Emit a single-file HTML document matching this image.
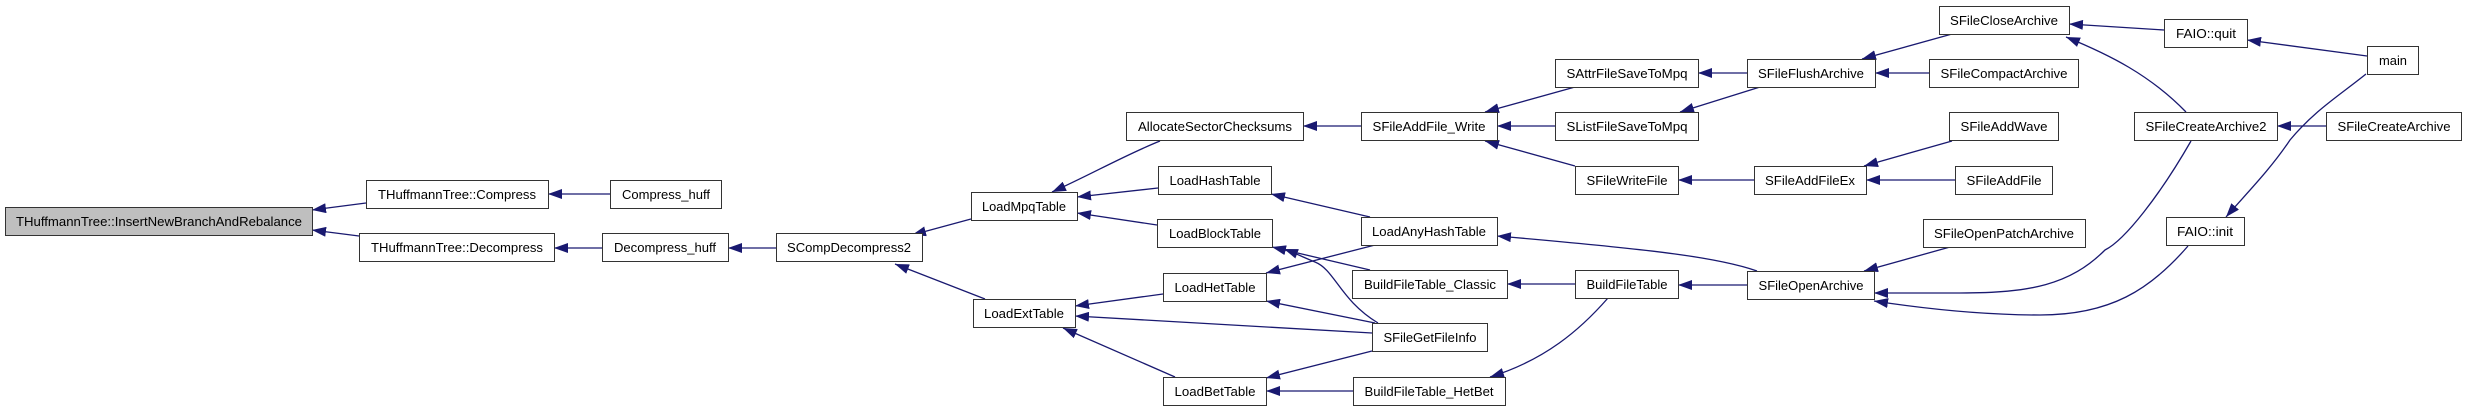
<!DOCTYPE html>
<html><head><meta charset="utf-8"><style>
html,body{margin:0;padding:0;background:#fff;}
svg{display:block;}
text{font-family:"Liberation Sans",sans-serif;font-size:13px;fill:#000;}
</style></head><body>
<svg width="2467" height="411" viewBox="0 0 2467 411" xmlns="http://www.w3.org/2000/svg">
<defs>
<marker id="a" viewBox="0 0 10 10" refX="10" refY="5" markerWidth="14" markerHeight="10" markerUnits="userSpaceOnUse" orient="auto" preserveAspectRatio="none">
<path d="M0,0 L10,5 L0,10 z" fill="#191970"/>
</marker>
</defs>
<g fill="none" stroke="#191970" stroke-width="1.3" marker-end="url(#a)">
<path d="M366,203 L312,210"/>
<path d="M359,236 L312,230"/>
<path d="M610,194 L548,194"/>
<path d="M602,248 L554,248"/>
<path d="M776,248 L728,248"/>
<path d="M971,219 L912,235"/>
<path d="M985,299 L895,264"/>
<path d="M1160,141 C1125,155 1090,175 1052,192"/>
<path d="M1158,188 L1077,197"/>
<path d="M1157,225 L1077,213"/>
<path d="M1163,294 L1075,306"/>
<path d="M1372,333 L1075,316"/>
<path d="M1175,377 L1063,328"/>
<path d="M1361,126 L1303,126"/>
<path d="M1370,217 L1271,194"/>
<path d="M1370,270 L1272,247"/>
<path d="M1378,323 C1340,300 1335,270 1315,262 C1305,258 1295,253 1284,249"/>
<path d="M1375,245 L1266,273"/>
<path d="M1375,323 L1266,301"/>
<path d="M1372,351 L1266,378"/>
<path d="M1353,391 L1266,391"/>
<path d="M1575,87 L1485,112"/>
<path d="M1555,126 L1497,126"/>
<path d="M1575,166 L1485,141"/>
<path d="M1757,271 C1720,258 1660,250 1497,236"/>
<path d="M1575,284 L1507,284"/>
<path d="M1608,298 C1580,330 1545,360 1490,377"/>
<path d="M1747,73 L1698,73"/>
<path d="M1760,87 L1680,112"/>
<path d="M1754,180 L1678,180"/>
<path d="M1747,285 L1678,285"/>
<path d="M1952,34 L1862,59"/>
<path d="M1929,73 L1875,73"/>
<path d="M1952,141 L1864,166"/>
<path d="M1955,180 L1866,180"/>
<path d="M1950,247 L1864,271"/>
<path d="M2191,141 C2160,195 2125,240 2105,250 C2070,285 2030,293 1960,293 L1874,293"/>
<path d="M2188,246 C2150,290 2110,315 2040,315 C1980,315 1920,308 1874,301"/>
<path d="M2164,30 L2069,24"/>
<path d="M2186,112 C2150,75 2110,55 2066,37"/>
<path d="M2326,126 L2277,126"/>
<path d="M2367,56 L2247,40"/>
<path d="M2366,74 C2340,95 2315,110 2290,140 C2270,170 2245,195 2226,217"/>
</g>
<g stroke="#333" stroke-width="1">
<rect x="5.5" y="207.5" width="307" height="28" fill="#bfbfbf"/>
<rect x="366.5" y="180.5" width="182" height="28" fill="#fff"/>
<rect x="610.5" y="180.5" width="111" height="28" fill="#fff"/>
<rect x="359.5" y="233.5" width="195" height="28" fill="#fff"/>
<rect x="602.5" y="233.5" width="126" height="28" fill="#fff"/>
<rect x="776.5" y="233.5" width="146" height="28" fill="#fff"/>
<rect x="971.5" y="192.5" width="106" height="28" fill="#fff"/>
<rect x="973.5" y="299.5" width="102" height="28" fill="#fff"/>
<rect x="1126.5" y="112.5" width="177" height="28" fill="#fff"/>
<rect x="1158.5" y="166.5" width="113" height="28" fill="#fff"/>
<rect x="1157.5" y="219.5" width="115" height="28" fill="#fff"/>
<rect x="1163.5" y="273.5" width="103" height="28" fill="#fff"/>
<rect x="1163.5" y="377.5" width="103" height="28" fill="#fff"/>
<rect x="1361.5" y="112.5" width="136" height="28" fill="#fff"/>
<rect x="1361.5" y="217.5" width="136" height="28" fill="#fff"/>
<rect x="1352.5" y="270.5" width="155" height="28" fill="#fff"/>
<rect x="1372.5" y="323.5" width="115" height="28" fill="#fff"/>
<rect x="1353.5" y="377.5" width="152" height="28" fill="#fff"/>
<rect x="1555.5" y="59.5" width="143" height="28" fill="#fff"/>
<rect x="1555.5" y="112.5" width="143" height="28" fill="#fff"/>
<rect x="1575.5" y="166.5" width="103" height="28" fill="#fff"/>
<rect x="1575.5" y="270.5" width="103" height="28" fill="#fff"/>
<rect x="1939.5" y="6.5" width="130" height="28" fill="#fff"/>
<rect x="1747.5" y="59.5" width="128" height="28" fill="#fff"/>
<rect x="1929.5" y="59.5" width="149" height="28" fill="#fff"/>
<rect x="1949.5" y="112.5" width="109" height="28" fill="#fff"/>
<rect x="1754.5" y="166.5" width="112" height="28" fill="#fff"/>
<rect x="1955.5" y="166.5" width="97" height="28" fill="#fff"/>
<rect x="1923.5" y="219.5" width="162" height="28" fill="#fff"/>
<rect x="1747.5" y="271.5" width="127" height="28" fill="#fff"/>
<rect x="2164.5" y="19.5" width="83" height="28" fill="#fff"/>
<rect x="2367.5" y="46.5" width="51" height="28" fill="#fff"/>
<rect x="2134.5" y="112.5" width="143" height="28" fill="#fff"/>
<rect x="2326.5" y="112.5" width="135" height="28" fill="#fff"/>
<rect x="2166.5" y="217.5" width="78" height="28" fill="#fff"/>
</g>
<g text-anchor="middle">
<text x="159" y="226" textLength="286" lengthAdjust="spacingAndGlyphs">THuffmannTree::InsertNewBranchAndRebalance</text>
<text x="457" y="199" textLength="158" lengthAdjust="spacingAndGlyphs">THuffmannTree::Compress</text>
<text x="666" y="199" textLength="88" lengthAdjust="spacingAndGlyphs">Compress_huff</text>
<text x="457" y="252" textLength="172" lengthAdjust="spacingAndGlyphs">THuffmannTree::Decompress</text>
<text x="665" y="252" textLength="102" lengthAdjust="spacingAndGlyphs">Decompress_huff</text>
<text x="849" y="252" textLength="124" lengthAdjust="spacingAndGlyphs">SCompDecompress2</text>
<text x="1024" y="211" textLength="84" lengthAdjust="spacingAndGlyphs">LoadMpqTable</text>
<text x="1024" y="318" textLength="80" lengthAdjust="spacingAndGlyphs">LoadExtTable</text>
<text x="1215" y="131" textLength="154" lengthAdjust="spacingAndGlyphs">AllocateSectorChecksums</text>
<text x="1215" y="185" textLength="91" lengthAdjust="spacingAndGlyphs">LoadHashTable</text>
<text x="1215" y="238" textLength="92" lengthAdjust="spacingAndGlyphs">LoadBlockTable</text>
<text x="1215" y="292" textLength="81" lengthAdjust="spacingAndGlyphs">LoadHetTable</text>
<text x="1215" y="396" textLength="81" lengthAdjust="spacingAndGlyphs">LoadBetTable</text>
<text x="1429" y="131" textLength="113" lengthAdjust="spacingAndGlyphs">SFileAddFile_Write</text>
<text x="1429" y="236" textLength="114" lengthAdjust="spacingAndGlyphs">LoadAnyHashTable</text>
<text x="1430" y="289" textLength="132" lengthAdjust="spacingAndGlyphs">BuildFileTable_Classic</text>
<text x="1430" y="342" textLength="93" lengthAdjust="spacingAndGlyphs">SFileGetFileInfo</text>
<text x="1429" y="396" textLength="129" lengthAdjust="spacingAndGlyphs">BuildFileTable_HetBet</text>
<text x="1627" y="78" textLength="121" lengthAdjust="spacingAndGlyphs">SAttrFileSaveToMpq</text>
<text x="1627" y="131" textLength="121" lengthAdjust="spacingAndGlyphs">SListFileSaveToMpq</text>
<text x="1627" y="185" textLength="81" lengthAdjust="spacingAndGlyphs">SFileWriteFile</text>
<text x="1627" y="289" textLength="81" lengthAdjust="spacingAndGlyphs">BuildFileTable</text>
<text x="2004" y="25" textLength="108" lengthAdjust="spacingAndGlyphs">SFileCloseArchive</text>
<text x="1811" y="78" textLength="106" lengthAdjust="spacingAndGlyphs">SFileFlushArchive</text>
<text x="2004" y="78" textLength="127" lengthAdjust="spacingAndGlyphs">SFileCompactArchive</text>
<text x="2004" y="131" textLength="87" lengthAdjust="spacingAndGlyphs">SFileAddWave</text>
<text x="1810" y="185" textLength="90" lengthAdjust="spacingAndGlyphs">SFileAddFileEx</text>
<text x="2004" y="185" textLength="75" lengthAdjust="spacingAndGlyphs">SFileAddFile</text>
<text x="2004" y="238" textLength="140" lengthAdjust="spacingAndGlyphs">SFileOpenPatchArchive</text>
<text x="1811" y="290" textLength="105" lengthAdjust="spacingAndGlyphs">SFileOpenArchive</text>
<text x="2206" y="38" textLength="60" lengthAdjust="spacingAndGlyphs">FAIO::quit</text>
<text x="2393" y="65" textLength="28" lengthAdjust="spacingAndGlyphs">main</text>
<text x="2206" y="131" textLength="121" lengthAdjust="spacingAndGlyphs">SFileCreateArchive2</text>
<text x="2394" y="131" textLength="113" lengthAdjust="spacingAndGlyphs">SFileCreateArchive</text>
<text x="2205" y="236" textLength="56" lengthAdjust="spacingAndGlyphs">FAIO::init</text>
</g>
</svg>
</body></html>
